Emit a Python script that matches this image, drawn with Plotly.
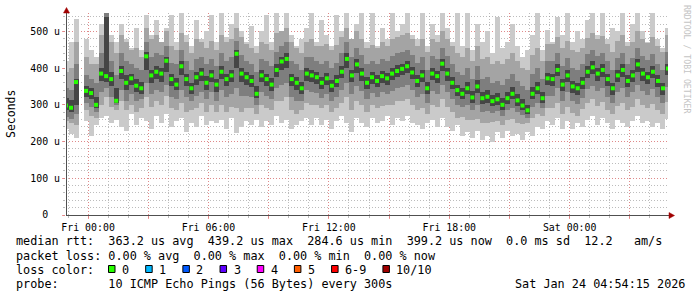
import plotly.graph_objects as go
import pandas as pd

nan = float("nan")

# ---------------- data (one sample every 15 min) ----------------
start_time = "2026-01-22 22:54:00"
end_time = "2026-01-24 04:54:00"
step_minutes = 15

median = [298,292,362,nan,338,332,300,385,378,370,
          311,392,360,372,352,345,432,380,390,385,
          420,370,355,405,370,345,375,385,360,380,
          355,390,370,380,439,385,375,365,330,380,
          370,355,395,418,425,370,360,345,385,380,
          375,360,372,352,365,390,425,380,410,385,
          360,375,365,378,372,385,392,398,405,388,
          365,380,345,385,378,412,385,360,340,330,
          345,320,350,318,322,310,315,300,318,330,
          312,298,285,330,345,318,372,370,395,355,
          380,350,345,360,390,402,385,395,370,345,
          380,395,365,380,410,385,375,390,365,345,399]

ping_lo1 = [235,220,210,nan,255,215,245,265,270,250,
            260,240,230,275,245,265,255,235,270,250,
            275,240,255,265,225,250,240,270,245,255,
            250,260,235,265,222,240,255,245,260,240,
            255,245,270,250,260,235,245,255,265,245,
            265,245,260,235,255,270,250,225,265,250,
            240,265,250,255,270,245,265,255,270,250,
            245,235,250,260,240,265,240,230,245,215,
            225,210,230,205,215,200,225,210,230,215,
            220,205,225,215,240,235,255,245,265,235,
            255,235,250,240,260,270,245,265,250,235,
            260,250,240,255,270,250,255,240,250,235,262]

ping_lo2 = [255,250,245,nan,285,270,265,300,320,295,
            285,310,285,300,280,290,320,295,310,300,
            325,290,285,305,280,285,290,305,280,300,
            280,300,280,295,290,280,290,290,275,300,
            290,285,310,310,320,285,275,285,305,300,
            300,290,300,280,290,305,320,285,310,300,
            280,300,290,298,300,300,310,310,315,300,
            285,290,275,300,295,315,295,280,265,268,
            260,258,262,250,250,252,255,245,258,262,
            250,248,250,265,275,270,290,292,305,275,
            295,278,270,288,305,315,298,308,285,275,
            298,305,285,295,315,300,292,302,285,275,308]

ping_lo3 = [268,262,275,nan,305,295,280,335,345,320,
            300,340,310,330,310,315,360,330,340,335,
            355,320,315,340,320,310,325,335,315,335,
            310,340,320,330,345,325,325,320,300,335,
            325,315,345,355,360,320,310,310,340,335,
            332,318,330,310,320,340,360,330,350,338,
            315,332,322,335,330,338,345,348,355,340,
            320,330,305,338,330,355,335,315,300,295,
            300,285,300,280,283,278,282,270,285,292,
            280,272,265,295,305,292,325,325,345,310,
            335,310,303,318,342,352,338,345,322,305,
            335,345,320,335,355,338,328,342,320,305,348]

ping_lo4 = [285,280,300,nan,322,315,292,365,362,350,
            305,370,340,355,335,330,395,360,370,362,
            390,350,340,380,352,330,355,365,340,362,
            335,370,352,362,400,362,355,348,318,362,
            352,338,375,395,400,350,340,330,365,362,
            358,342,355,335,348,372,400,362,388,365,
            342,358,348,360,355,368,375,380,388,370,
            348,362,330,368,360,392,366,342,325,315,
            330,305,333,302,306,296,300,287,303,315,
            298,286,275,315,330,305,355,352,378,338,
            362,333,328,342,372,385,366,376,352,328,
            362,376,348,362,390,366,356,372,348,328,380]

ping_hi4 = [318,312,370,nan,350,345,320,400,540,390,
            345,405,380,385,370,362,445,395,405,400,
            430,385,372,420,385,360,390,400,378,395,
            370,405,385,395,450,400,390,380,350,395,
            385,372,410,430,440,385,375,362,400,395,
            390,375,388,368,380,405,440,395,425,400,
            375,390,380,392,388,400,408,412,420,402,
            380,395,362,400,392,425,400,375,355,345,
            362,338,368,335,340,328,332,318,335,348,
            330,315,300,348,362,335,388,385,410,370,
            395,365,360,375,405,418,400,410,385,360,
            395,410,380,395,425,400,390,405,380,360,412]

ping_hi3 = [345,340,410,nan,380,370,360,440,550,420,
            380,440,420,410,400,395,470,430,440,435,
            460,415,410,450,420,395,425,430,410,425,
            405,440,420,430,475,435,420,412,390,425,
            420,405,445,460,470,420,410,395,430,430,
            420,410,420,400,415,440,470,430,455,435,
            410,420,412,425,420,432,440,445,450,435,
            415,430,395,432,425,455,432,410,390,380,
            400,370,405,370,375,360,365,355,370,385,
            365,350,340,385,400,370,420,418,440,405,
            428,400,395,410,438,448,432,442,418,395,
            428,442,412,428,455,432,422,438,412,395,445]

ping_hi2 = [390,400,470,nan,430,410,410,490,550,470,
            440,490,470,450,455,430,510,480,490,470,
            500,460,450,495,470,440,480,470,455,475,
            450,490,470,480,510,485,465,455,440,470,
            465,450,495,500,510,470,455,440,470,480,
            460,460,465,450,462,485,510,480,500,480,
            455,462,455,470,460,478,485,490,495,480,
            460,480,445,478,470,500,480,460,440,430,
            455,420,460,425,430,410,420,410,425,440,
            420,400,395,435,455,420,465,465,485,455,
            475,450,445,455,482,495,478,488,465,445,
            475,490,460,472,500,480,468,485,460,445,490]

ping_hi1 = [420,470,535,nan,480,450,430,520,550,490,
            470,520,480,455,510,450,545,490,530,470,
            510,545,470,550,490,460,530,480,500,545,
            470,550,485,520,550,500,470,515,460,500,
            545,470,550,500,550,490,460,480,510,550,
            470,530,490,460,545,500,550,480,520,550,
            470,550,460,510,480,550,500,520,550,490,
            480,550,460,520,490,550,510,470,550,460,
            550,450,520,470,500,440,540,455,470,520,
            460,430,450,490,550,450,505,470,540,490,
            550,470,500,480,530,550,490,550,480,510,
            500,550,470,520,550,500,470,550,480,455,510]

y_tick_values = [0, 100, 200, 300, 400, 500]
y_tick_labels = ["0\u00a0\u00a0", "100 u", "200 u", "300 u", "400 u", "500 u"]

loss_labels = ["0", "1", "2", "3", "4", "5", "6-9", "10/10"]
loss_colors = ["#26ff00", "#00b8ff", "#0059ff", "#5e00ff", "#ff00ff", "#ff5e00", "#ff0000", "#a00000"]

stats_line1 = "median rtt:  363.2 us avg  439.2 us max  284.6 us min  399.2 us now  0.0 ms sd  12.2   am/s"
stats_line2 = "packet loss: 0.00 % avg  0.00 % max  0.00 % min  0.00 % now"
stats_line3 = "loss color:"
stats_line4 = "probe:       10 ICMP Echo Pings (56 Bytes) every 300s"
stamp_text = "Sat Jan 24 04:54:15 2026"

# ---------------- figure ----------------
W, H = 697, 297
PL, PR, PT, PB = 66, 668, 13, 215   # plot box in pixels
MONO = "DejaVu Sans Mono"
CHAR_W = 7.08


def px(x, y):
    return (x - PL) / (PR - PL), (PB - y) / (PB - PT)


times = pd.date_range(start_time, periods=len(median), freq=f"{step_minutes}min")
bar_w = step_minutes * 60 * 1000

bands = [
    (ping_lo1, ping_hi1, "#cacaca"),
    (ping_lo2, ping_hi2, "#a4a4a4"),
    (ping_lo3, ping_hi3, "#7e7e7e"),
    (ping_lo4, ping_hi4, "#454545"),
]

fig = go.Figure()
for lo, hi, col in bands:
    fig.add_trace(go.Bar(
        x=times, base=lo, y=[h - l for l, h in zip(lo, hi)],
        width=bar_w, marker=dict(color=col, line=dict(width=0)),
        hoverinfo="skip",
    ))

fig.add_trace(go.Scatter(
    x=times, y=median, mode="markers",
    marker=dict(symbol="square", size=4, color=loss_colors[0], line=dict(width=0)),
    hoverinfo="skip",
))

major_ticks = pd.date_range("2026-01-23 00:00", "2026-01-24 03:00", freq="3h")
major_text = [t.strftime("%a %H:%M") if t.hour % 6 == 0 else "" for t in major_ticks]

GRID_MAJOR = "rgba(235,120,120,0.75)"
GRID_MINOR = "rgba(160,160,160,0.7)"
DOT = "1px,2px"

fig.update_xaxes(
    type="date", range=[start_time, end_time],
    tickmode="array", tickvals=list(major_ticks), ticktext=major_text,
    showgrid=True, gridcolor=GRID_MAJOR, griddash=DOT, gridwidth=1,
    ticks="outside", ticklen=3, tickcolor=GRID_MAJOR, tickwidth=1,
    tickfont=dict(family=MONO, size=9.9, color="#000000"),
    minor=dict(dtick=3600000, tick0="2026-01-23 00:00", showgrid=True,
               gridcolor=GRID_MINOR, griddash=DOT, gridwidth=1,
               ticks="outside", ticklen=2, tickcolor=GRID_MINOR),
    showline=False, zeroline=False, layer="above traces",
    fixedrange=True,
)
fig.update_yaxes(
    range=[0, 550], tickmode="array", tickvals=y_tick_values, ticktext=y_tick_labels,
    showgrid=True, gridcolor=GRID_MAJOR, griddash=DOT, gridwidth=1,
    ticks="outside", ticklen=3, tickcolor=GRID_MAJOR, tickwidth=1,
    tickfont=dict(family=MONO, size=9.9, color="#000000"),
    minor=dict(dtick=20, showgrid=True, gridcolor=GRID_MINOR, griddash=DOT,
               gridwidth=1, ticks="outside", ticklen=2, tickcolor=GRID_MINOR),
    showline=False, zeroline=False, layer="above traces",
    fixedrange=True,
)

shapes = []
AX = "#505050"
ARROW = "#a00000"
# y axis line with arrow on top
x0, y0 = px(66.5, 215)
x1, y1 = px(66.5, 10)
shapes.append(dict(type="line", xref="paper", yref="paper", x0=x0, y0=y0, x1=x1, y1=y1,
                   line=dict(color=AX, width=1)))
a, b = px(63.5, 13)
c, d = px(69.5, 13)
e, f = px(66.5, 7.5)
shapes.append(dict(type="path", xref="paper", yref="paper",
                   path=f"M {a},{b} L {c},{d} L {e},{f} Z",
                   fillcolor=ARROW, line=dict(color=ARROW, width=0.5)))
# x axis line with arrow on right
x0, y0 = px(66, 215.5)
x1, y1 = px(670, 215.5)
shapes.append(dict(type="line", xref="paper", yref="paper", x0=x0, y0=y0, x1=x1, y1=y1,
                   line=dict(color=AX, width=1)))
a, b = px(669, 212.5)
c, d = px(669, 218.5)
e, f = px(674.5, 215.5)
shapes.append(dict(type="path", xref="paper", yref="paper",
                   path=f"M {a},{b} L {c},{d} L {e},{f} Z",
                   fillcolor=ARROW, line=dict(color=ARROW, width=0.5)))

annotations = []


def text_at(x, y, s, size=11.8, anchor="left", color="#000000", angle=0, family=MONO):
    ax, ay = px(x, y)
    annotations.append(dict(
        x=ax, y=ay, xref="paper", yref="paper", showarrow=False,
        text=s.replace(" ", "\u00a0"), xanchor=anchor, yanchor="middle",
        borderpad=0, borderwidth=0,
        textangle=angle, font=dict(family=family, size=size, color=color),
    ))


# loss colour swatches and their labels, laid out like rrdtool's legend
cursor = 108.0
for lab, col in zip(loss_labels, loss_colors):
    sx0, sy0 = px(cursor + 0.5, 272.5)
    sx1, sy1 = px(cursor + 7.0, 265.5)
    shapes.append(dict(type="rect", xref="paper", yref="paper",
                       x0=sx0, y0=sy0, x1=sx1, y1=sy1,
                       fillcolor=col, line=dict(color="#000000", width=1)))
    label_left = cursor + 14
    text_at(label_left, 269.5, lab)
    cursor = label_left + len(lab) * CHAR_W + 16.1

text_at(16, 241.5, stats_line1)
text_at(16, 255.5, stats_line2)
text_at(16, 269.5, stats_line3)
text_at(16, 283.5, stats_line4)
text_at(685, 283.5, stamp_text, anchor="right")

text_at(11, 114, "Seconds", size=11.5, anchor="center", angle=-90)
text_at(687, 59, "RRDTOOL / TOBI OETIKER", size=8.2, anchor="center", angle=90,
        color="#c4c4c4")

fig.update_layout(
    width=W, height=H,
    margin=dict(l=PL, r=W - PR, t=PT, b=H - PB, pad=0),
    paper_bgcolor="#ffffff", plot_bgcolor="#ffffff",
    showlegend=False, barmode="overlay", bargap=0,
    shapes=shapes, annotations=annotations,
)

fig.write_html("out.html")
